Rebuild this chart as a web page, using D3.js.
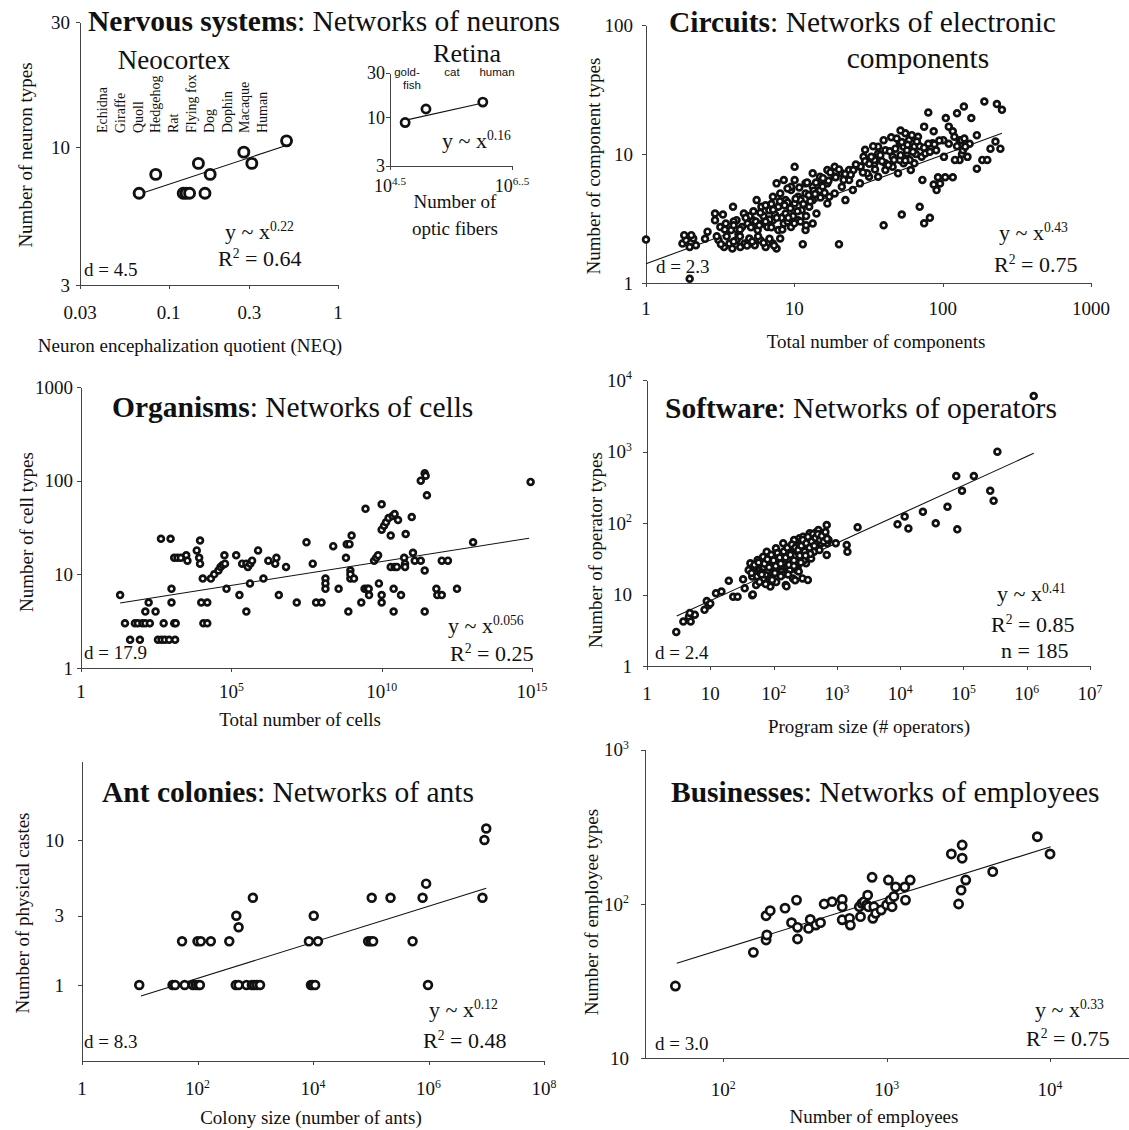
<!DOCTYPE html>
<html>
<head>
<meta charset="utf-8">
<script src="https://cdn.jsdelivr.net/npm/d3@7"></script>
<style>
  body { margin: 0; background: #fff; }
  text { font-family: "Liberation Serif", "Times New Roman", serif; fill: #111; white-space: pre; }
  .axis path, .axis line { stroke: #444; stroke-width: 1; shape-rendering: crispEdges; }
</style>
</head>
<body>
<svg id="fig" width="1129" height="1130"></svg>
<script>
// ---------- data ----------

// Nervous systems: neocortex
var neoSpecies = ["Echidna", "Giraffe", "Quoll", "Hedgehog", "Rat", "Flying fox", "Dog", "Dophin", "Macaque", "Human"];
var neoNEQ   = [0.067, 0.084, 0.122, 0.127, 0.133, 0.150, 0.164, 0.176, 0.278, 0.310, 0.497];
var neoTypes = [6.7, 7.9, 6.7, 6.7, 6.7, 8.7, 6.7, 7.9, 9.6, 8.7, 10.6];
var neoFit = [[0.0695, 6.7], [0.5, 10.2]];
var neoXTicks = [0.03, 0.1, 0.3, 1], neoXLabels = ["0.03", "0.1", "0.3", "1"];
var neoYTicks = [3, 10, 30], neoYLabels = ["3", "10", "30"];

// Nervous systems: retina inset
var retinaNames  = ["gold-fish", "cat", "human"];
var retinaFibers = [56000, 123000, 1050000];
var retinaTypes  = [8.8, 12.3, 14.6];
var retinaFit = [[60000, 9.4], [1050000, 14.3]];
var retinaXTicks = [31623, 3162278], retinaXLabels = ["10^4.5", "10^6..5"];
var retinaYTicks = [3, 10, 30], retinaYLabels = ["3", "10", "30"];

// Circuits: [total components, component types]
var circuitPoints = [
  [1,2.17],[1.97,1.08],[20,2.0],[11.4,2.0],[40,2.8],[53,3.4],[70,3.9],[75,2.9],[82,3.2],[80,21],[75,16.3],[87,15],
  [105,19],[125,20.7],[139,23.3],[156,19],[191,25.5],[232,24.4],[251,22],[170,14],[227,12.5],[245,11],[210,11],
  [170,7.7],[185,9],[200,9],[102,9.5],[93,6.6],[96,5.9],[91,5.25],[104,6.6],[117,6.6],[73,6.3],[87,5.8],[110,16.3],
  [117,15],[130,12.8],[143,12],[152,12],[135,10],[147,9.5],[130,9],[121,9],[137,10.7],
  [1.76,2.02],[1.86,2.15],[1.97,1.9],[2.08,2.21],[2.17,1.96],[1.81,2.35],[2.02,2.35],[3.08,2.15],[3.36,1.9],[3.65,2.02],
  [3.82,1.85],[4.08,2.15],[4.32,1.9],[4.62,2.02],[4.97,2.21],[5.41,1.96],[5.89,2.15],[6.41,1.9],[7.17,2.02],[7.59,1.85],[8.03,2.21],
  [2.92,3.07],[3.17,2.72],[3.45,2.89],[3.75,2.57],[4.08,3.07],[4.44,2.72],[4.84,2.89],[5.26,3.07],[5.66,2.57],[6.06,2.89],
  [6.59,2.72],[7.17,3.07],[7.8,2.57],[8.49,2.89],[9.5,2.72],[10.6,3.07],[11.9,2.57],[13.3,2.89],[2.92,3.46],
  [3.86,3.9],[4.57,3.46],[5.57,4.39],[6.78,3.67],[7.8,3.9],[8.73,3.46],[10.05,4.14],[11.2,3.67],[12.6,3.9],[14.1,3.46],[16.7,4.14],
  [7.17,4.66],[8.03,4.95],[8.73,4.39],[9.5,5.25],[10.6,4.66],[11.9,4.95],[13.3,4.39],[14.9,5.25],[17.2,4.66],[18.7,4.95],[22.1,4.39],[24.8,5.25],
  [7.59,5.92],[8.49,6.28],[9.5,5.57],[10.05,6.28],[11.9,5.92],[13.3,5.57],[14.9,6.28],[16.7,5.92],[18.7,6.67],[20.9,5.57],[23.4,6.28],[27.7,5.92],[31.9,6.67],
  [10.05,7.97],[13.3,7.08],[14.9,6.67],[16.7,7.51],[18.7,7.97],[20.9,7.08],[23.4,7.51],[27.7,7.97],[31,7.08],[34.7,8.46],[36.7,6.67],
  [41.1,7.51],[46,7.97],[50,7.08],[54.5,8.46],[61,7.51],
  [29.3,9.53],[34.7,8.98],[36.7,10.1],[41.1,8.46],[46,9.53],[51.4,8.98],[57.5,10.1],[64.4,8.46],[72.1,9.53],
  [36.7,11.4],[41.1,10.7],[51.4,12.1],[54.5,11.4],[57.5,10.7],[64.4,11.4],[76.3,10.1],[90.4,10.7],
  [56,14.5],[59.3,12.8],[68.2,13.6],[85.5,12.1],[101,12.8],[120,13.6],[134,12.8],[142,11.4],
  [5.0,3.3],[5.5,3.0],[6.2,3.3],[6.8,3.1],[7.4,3.4],[8.2,3.2],[9.0,3.0],[9.8,3.3],[10.5,3.6],[12,3.3],[6,3.9],[7,4.1],
  [9,4.2],[11,4.4],[12.5,4.8],[13.5,5.2],[15.5,5.6],[17,6.2],[19,6.6],[22,7.0],[25,7.5],[28,8.0],[30,8.8],[33,9.5],
  [38,9.8],[44,10.5],[48,11],[60,9.0],[66,10],[70,11.5],[80,12],[45,13.5],[52,15.2],[62,14],[3.3,3.4],[3.9,3.0],
  [4.2,2.4],[2.5,2.2],[2.6,2.5],[3.0,2.3],
  [3.2,2.0],[3.5,2.3],[3.9,2.1],[4.3,2.3],[4.8,1.95],[5.2,2.1],[5.7,2.3],[6.2,2.05],[6.8,2.2],[7.3,1.95],
  [3.4,2.6],[3.9,2.8],[4.3,2.6],[4.7,3.2],[5.1,2.7],[5.8,2.8],[6.4,3.0],[7.0,2.7],[7.6,3.2],[8.3,2.6],[9.1,3.2],[10,2.9],
  [11,3.0],[12,2.8],[5.3,3.6],[5.9,3.5],[6.4,4.0],[7.2,3.7],[8,4.3],[8.6,4.0],[9.4,3.8],[10.2,4.5],[11.5,4.1],[12.8,4.3],
  [13.8,4.9],[15,4.6],[16,5.0],[9,5.4],[10.8,5.5],[12.2,6.0],[14,6.0],[15.6,6.5],[17.5,7.2],[20,7.6],[21.5,6.3],[24,6.9],
  [26,8.3],[29,7.2],[32,8.4],[35,7.6],[39,8.8],[43,8.2],[47,9.0],[52,9.8],[56,8.9],[58,11.8],[63,10.4],[67,12.5],[75,11.2],
  [82,10.4],[88,11.9],[95,12.7],[110,12],[125,11.5],[140,13.2],[30,10.8],[34,11.5],[40,12.8],[49,13.2],[53,12.4]
];
var circuitFit = [[1, 1.41], [251, 14.5]];
var circuitXTicks = [1, 10, 100, 1000], circuitXLabels = ["1", "10", "100", "1000"];
var circuitYTicks = [1, 10, 100], circuitYLabels = ["1", "10", "100"];

// Organisms: [total cells, cell types]
var cellPoints = [
  [20,6],[29,3],[43,2],[62,3],[78,3],[110,3],[138,3],[195,3],[91,2],[138,4],[178,5],[302,4],[457,24],[562,3],[363,2],
  [479,2],[617,2],[851,2],[955,24],[1023,7],[1023,5],[1259,3],[1413,3],[1349,2],[1259,15],[1622,15],[2089,15],[3162,16],
  [3467,14],[7079,18],[8511,15],[9120,23],[9120,13],[11220,9],[1e4,5],[15850,5],[11750,3],[15850,3],[20890,9],[26920,10],
  [37150,11],[43650,12],[51290,12.6],[61660,13],[58880,16],[69180,7],[1.45e5,16],[1.86e5,6],[2.29e5,13],[3.16e5,13],
  [3.16e5,4],[3.55e5,12],[4.27e5,13],[4.9e5,14],[4.17e5,8],[7.76e5,18],[1.17e6,9],[1.7e6,14],[2.88e6,13],[3.16e6,15],
  [3.8e6,6],[6.6e6,12],[1.5e7,5],[3.16e7,22],[5.1e7,13],[6.6e7,5],[1e8,5],[1.35e8,9],[1.35e8,8],[1.35e8,7],[2.45e8,20],
  [3.7e8,7],[6.5e8,15],[6.9e8,21],[8.5e8,21],[7.8e8,4],[9.1e8,11],[9.1e8,9],[9.1e8,10],[1e9,26],[1.2e9,9],[2.1e9,5],
  [2.7e9,7],[3.3e9,7],[3.7e9,7],[3.8e9,6],[2.9e9,50],[5.6e9,14],[6.6e9,15],[7.6e9,16],[8.1e9,8],[1e10,56],[1e10,30],
  [1e10,6],[1e10,5],[1.2e10,33],[1.4e10,36],[1.7e10,40],[2.3e10,42],[2.7e10,44],[2e10,26],[2e10,12],[2.7e10,12],
  [3.2e10,12],[2.5e10,7],[2.5e10,4],[3.5e10,38],[4.4e10,6],[5.6e10,15],[6e10,13],[6e10,12],[6.3e10,27],[1e11,41],
  [1.1e11,17],[1.26e11,14],[2e11,14],[2e11,100],[2.7e11,120],[2.9e11,113],[3.2e11,70],[2.7e11,11],[2.7e11,4],
  [6.6e11,7],[7.1e11,6],[1e12,6],[1e12,14],[1.6e12,14],[3.2e12,7],[1.1e13,22],[9e14,97]
];
var cellFit = [[20, 4.95], [8e14, 24.3]];
var cellXTicks = [1, 1e5, 1e10, 1e15], cellXLabels = ["1", "10^5", "10^10", "10^15"];
var cellYTicks = [1, 10, 100, 1000], cellYLabels = ["1", "10", "100", "1000"];

// Software: [program size, operator types]
var softPoints = [
  [2.9,3.0],[3.75,4.2],[4.6,4.9],[4.9,4.2],[5.7,5.2],[4.75,5.5],[8.1,6.1],[8.8,8.1],[9.4,7.1],[10,7.5],[12.3,10.4],[15,11],
  [19.6,15.6],[23,9.3],[27,9.3],[33,16.3],[35,12.2],[46,9.8],[53,13.6],[47,10],
  [40.4,22],[43,27.3],[46,17.8],[49,24.5],[53,19.8],[56,30.4],[60,22],[64,25.9],[68.5,33.8],[68.5,16.8],[73,22],[78,39.7],
  [84,27.3],[87,18.7],[89,12.9],[95,33.8],[102,23.2],[109,44.2],[116,28.8],[116,17.8],[124,35.7],[133,24.5],[142,52],
  [147,32],[156,13.6],[162,41.9],[173,22],[185,46.7],[197,33.8],[203,16.8],[211,57.8],[225,39.7],[231,22],[240,24.5],
  [257,61],[264,46.7],[274,33.8],[286,16.8],[293,64.4],[301,41.9],[313,52],[326,27.3],[334,61],[348,16],[357,41.9],
  [372,71.7],[382,54.8],[392,32],[408,61],[424,46.7],[436,39.7],[448,71.7],[466,52],[484,75.7],[497,61],[511,79.8],
  [531,41.9],[552,64.4],[567,52],[606,71.7],[631,61],[665,64.4],[701,52],[739,57.8],[692,35.7],[692,93.8],[962,52],
  [1432,49.2],[1469,39.7],[2128,87],[219,15.8],[160,13],
  [55,18],[62,20],[70,24],[75,19],[82,22],[90,25],[98,28],[105,20],[112,31],[120,26],[128,30],[135,21],[150,28],[160,35],
  [170,30],[180,38],[190,27],[205,44],[215,35],[235,48],[250,38],[270,55],[280,42],[300,50],[320,45],[340,58],[360,48],
  [390,62],[410,50],[450,58],[480,55],[520,68],[90,17],[110,15],[140,19],[180,22],[230,26],[300,30],[380,37],
  [45,20],[50,26],[58,28],[65,19],[72,27],[80,31],[85,24],[92,36],[100,30],[108,25],[115,38],[125,33],[130,27],[145,40],
  [155,33],[165,45],[175,26],[185,36],[195,50],[210,30],[220,45],[245,42],[260,35],[275,48],[290,58],[310,40],[330,52],
  [350,64],[370,45],[400,55],[420,70],[440,48],[460,62],[500,70],[540,58],[580,66],[620,55],[660,75],[700,60],[60,15],
  [75,14],[95,16],[130,18],[170,19],[250,21],[210,25],[320,35],[270,28],
  [9100,95.8],[11800,123],[13500,84],[22900,144],[36500,99],[56000,169],[77000,454],[80000,81.5],[95000,283],
  [146000,454],[265000,283],[300000,205],[344000,995],[1290000,5970]
];
var softFit = [[2.95, 5.0], [1.29e6, 943]];
var softXTicks = [1, 10, 1e2, 1e3, 1e4, 1e5, 1e6, 1e7];
var softXLabels = ["1", "10", "10^2", "10^3", "10^4", "10^5", "10^6", "10^7"];
var softYTicks = [1, 10, 1e2, 1e3, 1e4], softYLabels = ["1", "10", "10^2", "10^3", "10^4"];

// Ant colonies
var antSize = [9.8,37,41,60,83,93,103,110,460,515,705,875,960,1075,1210,9200,9800,10900,980000,
               54,100,114,170,355,8500,12200,90000,100000,110000,530000,
               470,515,910,10300,104000,220000,790000,910000,8600000,9300000,10000000];
var antCastes = [1,1,1,1,1,1,1,1,1,1,1,1,1,1,1,1,1,1,1,
                 2,2,2,2,2,2,2,2,2,2,2,
                 3,2.5,4,3,4,4,4,5,4,10,12];
var antFit = [[10.5, 0.84], [1e7, 4.64]];
var antXTicks = [1, 1e2, 1e4, 1e6, 1e8], antXLabels = ["1", "10^2", "10^4", "10^6", "10^8"];
var antYTicks = [1, 3, 10], antYLabels = ["1", "3", "10"];

// Businesses: [employees, employee types]
var bizPoints = [
  [51,29.4],[153,48.6],[183,58.5],[185,63],[183,84],[194,90.5],[239,94],[262,75.7],[281,106],[285,70.6],[285,59.3],
  [333,69.5],[341,79.4],[369,73],[394,75.7],[415,100],[464,103.6],[535,107],[535,96],[535,79],[593,80.7],[600,73],
  [681,96],[692,82.8],[706,101],[728,103.6],[755,98.6],[774,96],[766,114],[815,149],[824,80.7],[836,96],[858,87],
  [926,91.4],[1000,98.6],[1026,143],[1052,106],[1080,96],[1108,112],[1136,129],[1291,129],[1305,106],[1394,143],
  [2490,211],[2757,100],[2856,123],[2900,241],[2900,198],[3050,143],[4460,162],[8360,273],[10000,211]
];
var bizFit = [[52, 41.3], [10100, 235]];
var bizXTicks = [1e2, 1e3, 1e4], bizXLabels = ["10^2", "10^3", "10^4"];
var bizYTicks = [10, 1e2, 1e3], bizYLabels = ["10", "10^2", "10^3"];

// ---------- drawing ----------
var svg = d3.select("#fig");

// writes "a^b c" as text with superscript tspans
function rich(sel, str, size) {
  var parts = str.split(/\^(\S+)/);
  var up = 0;
  parts.forEach(function(p, i) {
    if (p === "") return;
    var t = sel.append("tspan").text(p);
    if (i % 2 === 1) {
      t.style("font-size", (size * 0.62) + "px").attr("dy", -size * 0.38);
      up = size * 0.38;
    } else if (up) {
      t.attr("dy", up);
      up = 0;
    }
  });
}

function addText(g, str, x, y, size, anchor) {
  var t = g.append("text").attr("x", x).attr("y", y)
    .attr("text-anchor", anchor || "start").style("font-size", size + "px");
  rich(t, str, size);
  return t;
}

function drawPanel(p) {
  var x = d3.scaleLog().domain(p.xDomain).range(p.xRange);
  var y = d3.scaleLog().domain(p.yDomain).range(p.yRange);
  var g = svg.append("g");
  var x0 = p.xRange[0], y0 = p.yRange[0];

  g.append("g").attr("class", "axis").attr("transform", "translate(0," + y0 + ")")
    .call(d3.axisBottom(x).tickValues(p.xTicks).tickFormat("").tickSizeInner(4).tickSizeOuter(0));
  g.append("g").attr("class", "axis").attr("transform", "translate(" + x0 + ",0)")
    .call(d3.axisLeft(y).tickValues(p.yTicks).tickFormat("").tickSizeInner(4).tickSizeOuter(0));

  p.xTicks.forEach(function(v, i) {
    addText(g, p.xLabels[i], x(v), p.xLabelY, p.tickFont, "middle");
  });
  p.yTicks.forEach(function(v, i) {
    addText(g, p.yLabels[i], p.yLabelX, y(v) + p.tickFont * 0.35, p.tickFont, "end");
  });

  if (p.xTitle) {
    p.xTitle.forEach(function(s, i) {
      addText(g, s, p.xTitleX, p.xTitleY + i * 27, 19, "middle");
    });
  }
  if (p.yTitle) {
    g.append("text").attr("text-anchor", "middle")
      .attr("transform", "translate(" + p.yTitleX + "," + p.yTitleY + ") rotate(-90)")
      .style("font-size", "19px").text(p.yTitle);
  }

  g.append("path").datum(p.fit)
    .attr("d", d3.line().x(function(d) { return x(d[0]); }).y(function(d) { return y(d[1]); }))
    .attr("fill", "none").attr("stroke", "#111").attr("stroke-width", 1.1);

  g.selectAll("circle").data(p.points).enter().append("circle")
    .attr("cx", function(d) { return x(d[0]); })
    .attr("cy", function(d) { return y(d[1]); })
    .attr("r", p.r).attr("fill", "#fff").attr("stroke", "#111").attr("stroke-width", p.sw);

  if (p.bold) {
    var t = g.append("text").attr("x", p.titleX).attr("y", p.titleY).style("font-size", "29.5px");
    t.append("tspan").style("font-weight", "bold").text(p.bold);
    t.append("tspan").text(p.rest);
  }
  if (p.d) addText(g, p.d, p.dX, p.dY, 19);
  if (p.fitText) {
    p.fitText.forEach(function(s, i) { addText(g, s, p.fitX[i], p.fitY[i], 22); });
  }
  return { x: x, y: y, g: g };
}

// Nervous systems
var neo = drawPanel({
  xDomain: [0.03, 1], xRange: [80, 338], yDomain: [3, 30], yRange: [285, 22],
  xTicks: neoXTicks, xLabels: neoXLabels, yTicks: neoYTicks, yLabels: neoYLabels,
  xLabelY: 319, yLabelX: 70, tickFont: 19,
  xTitle: ["Neuron encephalization quotient (NEQ)"], xTitleX: 190, xTitleY: 352,
  yTitle: "Number of neuron types", yTitleX: 32, yTitleY: 155,
  bold: "Nervous systems", rest: ": Networks of neurons", titleX: 88, titleY: 31,
  d: "d = 4.5", dX: 84, dY: 276,
  fitText: ["y ~ x^0.22", "R^2 = 0.64"], fitX: [225, 218], fitY: [239, 266],
  points: d3.zip(neoNEQ, neoTypes), fit: neoFit, r: 5, sw: 2.9
});
addText(neo.g, "Neocortex", 174, 69, 27, "middle");
neoSpecies.forEach(function(s, i) {
  neo.g.append("text").attr("transform", "translate(" + (107 + i * 17.8) + ",133) rotate(-90)")
    .style("font-size", "14px").text(s);
});

// Retina inset
var ret = drawPanel({
  xDomain: [31623, 3162278], xRange: [390, 512], yDomain: [3, 30], yRange: [166, 73],
  xTicks: retinaXTicks, xLabels: retinaXLabels, yTicks: retinaYTicks, yLabels: retinaYLabels,
  xLabelY: 192, yLabelX: 385, tickFont: 18,
  xTitle: ["Number of", "optic fibers"], xTitleX: 455, xTitleY: 208,
  fitText: ["y ~ x^0.16"], fitX: [442], fitY: [148],
  points: d3.zip(retinaFibers, retinaTypes), fit: retinaFit, r: 4.1, sw: 2.7
});
addText(ret.g, "Retina", 467, 62, 26, "middle");
var retLabelX = [407, 452, 497];
retinaNames.forEach(function(s, i) {
  var lines = s.indexOf("-") > 0 ? [s.split("-")[0] + "-", s.split("-")[1]] : [s];
  lines.forEach(function(l, j) {
    ret.g.append("text").attr("x", retLabelX[i] + (j ? 5 : 0)).attr("y", 76 + j * 12.5)
      .attr("text-anchor", "middle").style("font-family", "'Liberation Sans', Arial, sans-serif")
      .style("font-size", "11.5px").text(l);
  });
});

// Circuits
var circ = drawPanel({
  xDomain: [1, 1000], xRange: [646, 1091], yDomain: [1, 100], yRange: [283, 25],
  xTicks: circuitXTicks, xLabels: circuitXLabels, yTicks: circuitYTicks, yLabels: circuitYLabels,
  xLabelY: 315, yLabelX: 633, tickFont: 19,
  xTitle: ["Total number of components"], xTitleX: 876, xTitleY: 348,
  yTitle: "Number of component types", yTitleX: 600, yTitleY: 166,
  bold: "Circuits", rest: ": Networks of electronic", titleX: 669, titleY: 32,
  d: "d = 2.3", dX: 656, dY: 273,
  fitText: ["y ~ x^0.43", "R^2 = 0.75"], fitX: [999, 994], fitY: [240, 272],
  points: circuitPoints, fit: circuitFit, r: 2.9, sw: 2.7
});
circ.g.append("text").attr("x", 918).attr("y", 68).attr("text-anchor", "middle")
  .style("font-size", "29.5px").text("components");

// Organisms
drawPanel({
  xDomain: [1, 1e15], xRange: [81, 532], yDomain: [1, 1000], yRange: [668, 387],
  xTicks: cellXTicks, xLabels: cellXLabels, yTicks: cellYTicks, yLabels: cellYLabels,
  xLabelY: 698, yLabelX: 73, tickFont: 19,
  xTitle: ["Total number of cells"], xTitleX: 300, xTitleY: 726,
  yTitle: "Number of cell types", yTitleX: 33, yTitleY: 532,
  bold: "Organisms", rest: ": Networks of cells", titleX: 112, titleY: 417,
  d: "d = 17.9", dX: 84, dY: 659,
  fitText: ["y ~ x^0.056", "R^2 = 0.25"], fitX: [448, 450], fitY: [633, 661],
  points: cellPoints, fit: cellFit, r: 2.9, sw: 2.7
});

// Software
drawPanel({
  xDomain: [1, 1e7], xRange: [647, 1090], yDomain: [1, 1e4], yRange: [666, 380],
  xTicks: softXTicks, xLabels: softXLabels, yTicks: softYTicks, yLabels: softYLabels,
  xLabelY: 700, yLabelX: 632, tickFont: 19,
  xTitle: ["Program size (# operators)"], xTitleX: 869, xTitleY: 733,
  yTitle: "Number of operator types", yTitleX: 602, yTitleY: 550,
  bold: "Software", rest: ": Networks of operators", titleX: 665, titleY: 418,
  d: "d = 2.4", dX: 655, dY: 659,
  fitText: ["y ~ x^0.41", "R^2 = 0.85", "n = 185"], fitX: [997, 991, 1001], fitY: [601, 632, 658],
  points: softPoints, fit: softFit, r: 2.9, sw: 2.7
});

// Ant colonies
drawPanel({
  xDomain: [1, 1e8], xRange: [82, 544], yDomain: [0.3, 35], yRange: [1060.8, 761.1],
  xTicks: antXTicks, xLabels: antXLabels, yTicks: antYTicks, yLabels: antYLabels,
  xLabelY: 1095, yLabelX: 64, tickFont: 19,
  xTitle: ["Colony size (number of ants)"], xTitleX: 311, xTitleY: 1124,
  yTitle: "Number of physical castes", yTitleX: 29, yTitleY: 913,
  bold: "Ant colonies", rest: ": Networks of ants", titleX: 102, titleY: 802,
  d: "d = 8.3", dX: 84, dY: 1048,
  fitText: ["y ~ x^0.12", "R^2 = 0.48"], fitX: [429, 423], fitY: [1017, 1048],
  points: d3.zip(antSize, antCastes), fit: antFit, r: 3.9, sw: 2.7
});

// Businesses
drawPanel({
  xDomain: [33, 30000], xRange: [644.5, 1128], yDomain: [10, 1000], yRange: [1058.3, 749.7],
  xTicks: bizXTicks, xLabels: bizXLabels, yTicks: bizYTicks, yLabels: bizYLabels,
  xLabelY: 1096, yLabelX: 629, tickFont: 19,
  xTitle: ["Number of employees"], xTitleX: 874, xTitleY: 1123,
  yTitle: "Number of employee types", yTitleX: 598, yTitleY: 912,
  bold: "Businesses", rest: ": Networks of employees", titleX: 671, titleY: 802,
  d: "d = 3.0", dX: 655, dY: 1050,
  fitText: ["y ~ x^0.33", "R^2 = 0.75"], fitX: [1035, 1026], fitY: [1017, 1046],
  points: bizPoints, fit: bizFit, r: 4.1, sw: 2.7
});
</script>
</body>
</html>
